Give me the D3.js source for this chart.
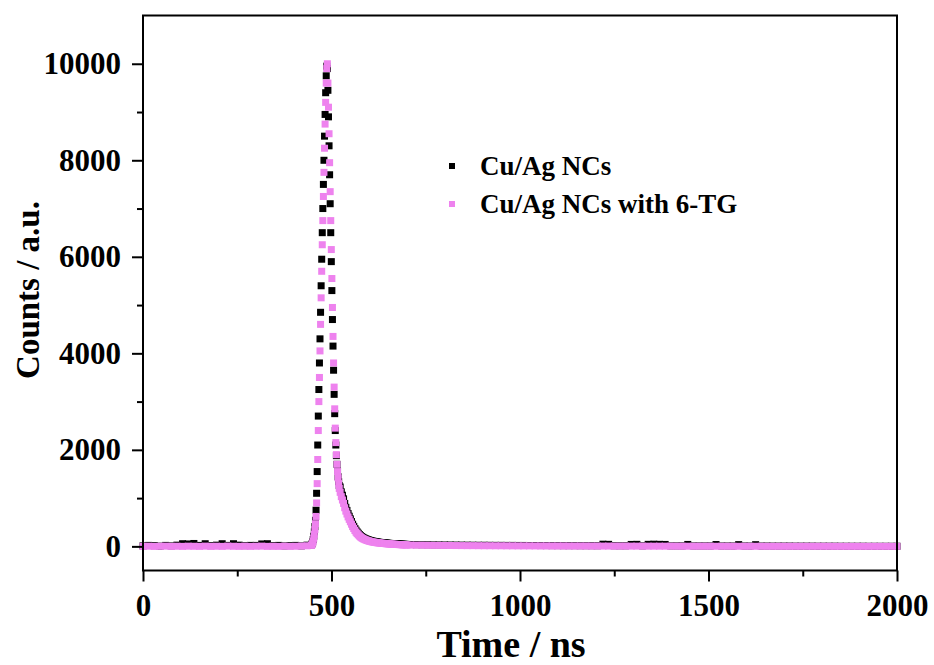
<html>
<script src='https://d3js.org/d3.v7.min.js'></script>
<style>
  body {margin: 0; background: #fff;}
  text {font-family: 'Liberation Serif', 'Times New Roman', serif; font-weight: bold; fill: #000;}
</style>
<body onload='init()'>
<svg width=934 height=665></svg>
<script>
// time channels: [start ns, step ns, count]
const timeSegments = [[0, 15, 30], [447, 1.5, 50], [523, 3, 60], [710, 15, 87]];

const baseBlack = [
  10, 20, 15, 5, 20, 10, 25, 55, 50, 60,
  20, 55, 15, 25, 55, 20, 55, 25, 15, 20,
  20, 50, 55, 15, 20, 10, 15, 20, 10, 25];
const baseViolet = [
  0, 4, 0, 2, 5, 0, 3, 0, 4, 2,
  0, 5, 0, 3, 0, 6, 2, 0, 4, 0,
  3, 5, 0, 2, 0, 4, 0, 3, 6, 12];

const peakBlack = [
  30, 55, 90, 140, 210, 300, 410, 540, 750, 1100,
  1550, 2100, 2700, 3250, 3800, 4300, 4850, 5400, 5950, 6500,
  7000, 7500, 8000, 8500, 8950, 9400, 9750, 9950, 9900, 9450,
  8900, 8300, 7700, 7100, 6500, 5900, 5300, 4700, 4150, 3650,
  3150, 2750, 2400, 2100, 1880, 1700, 1560, 1440, 1340, 1260];
const peakViolet = [
  20, 40, 70, 110, 170, 250, 350, 470, 620, 900,
  1300, 1800, 2400, 3000, 3500, 4050, 4600, 5150, 5700, 6250,
  6750, 7250, 7750, 8250, 8750, 9200, 9600, 9900, 10000, 9600,
  9100, 8550, 7950, 7350, 6750, 6150, 5550, 4950, 4350, 3800,
  3300, 2850, 2450, 2150, 1900, 1700, 1550, 1420, 1300, 1200];

const decayBlack = [
  1230, 1130, 1060, 985, 890, 810, 745, 680, 625, 570,
  515, 460, 415, 372, 335, 300, 272, 245, 222, 203,
  186, 173, 162, 151, 141, 133, 125, 119, 112, 107,
  102, 97, 93, 90, 86, 83, 80, 77, 75, 72,
  69, 67, 65, 63, 61, 59, 57, 55, 54, 52,
  51, 49, 48, 47, 46, 44, 43, 42, 41, 40];
const decayViolet = [
  1120, 1030, 960, 890, 800, 730, 670, 610, 560, 510,
  460, 410, 370, 330, 295, 265, 240, 215, 195, 178,
  162, 150, 140, 130, 121, 114, 107, 101, 95, 90,
  86, 82, 78, 75, 72, 70, 67, 64, 62, 60,
  57, 55, 53, 51, 49, 47, 46, 44, 43, 41,
  40, 38, 37, 36, 35, 33, 32, 31, 30, 29];

const tailBlack = [
  38, 36, 34, 33, 31, 30, 29, 28, 27, 26,
  25, 24, 23, 23, 22, 21, 21, 20, 20, 19,
  19, 18, 18, 17, 17, 16, 16, 15, 15, 15,
  14, 14, 14, 13, 45, 42, 13, 12, 12, 40,
  42, 11, 42, 45, 42, 40, 10, 10, 10, 40,
  9, 9, 9, 9, 38, 8, 8, 8, 36, 8,
  7, 35, 7, 7, 6, 6, 6, 6, 5, 5,
  5, 5, 4, 4, 4, 4, 3, 3, 3, 3,
  3, 2, 2, 2, 2, 2, 2];
const tailViolet = [
  27, 25, 24, 22, 21, 20, 19, 18, 17, 16,
  15, 15, 14, 13, 13, 12, 12, 11, 11, 10,
  10, 10, 9, 9, 9, 8, 8, 8, 7, 7,
  7, 7, 6, 6, 6, 6, 5, 5, 5, 5,
  5, 4, 4, 4, 4, 4, 4, 3, 3, 3,
  3, 3, 3, 3, 2, 2, 2, 2, 2, 2,
  2, 2, 2, 1, 1, 1, 1, 1, 1, 1,
  1, 1, 1, 1, 1, 0, 0, 0, 0, 0,
  0, 0, 0, 0, 0, 0, 0];

const seriesNames = ['Cu/Ag NCs', 'Cu/Ag NCs with 6-TG'];
const xMajor = [0, 500, 1000, 1500, 2000];
const xMinor = [250, 750, 1250, 1750];
const yMajor = [0, 2000, 4000, 6000, 8000, 10000];
const yMinor = [1000, 3000, 5000, 7000, 9000];

function init() {
  const svg = d3.select('svg');
  const left = 143, right = 897, top = 15.5, bottom = 570.5;
  const x = d3.scaleLinear().domain([0, 2000]).range([left, right]);
  const y = d3.scaleLinear().domain([-500, 11000]).range([bottom, top]);
  const color = d3.scaleOrdinal().domain(seriesNames).range(['#000000', '#EE82EE']);

  const times = timeSegments.flatMap(([s, st, n]) => d3.range(n).map(i => s + i * st));
  const black = baseBlack.concat(peakBlack, decayBlack, tailBlack);
  const violet = baseViolet.concat(peakViolet, decayViolet, tailViolet);
  const series = [
    {name: seriesNames[0], pts: times.map((t, i) => [t, black[i]])},
    {name: seriesNames[1], pts: times.map((t, i) => [t, violet[i]])}
  ];

  const sz = 7;
  svg.append('g').selectAll('g').data(series).enter().append('g')
    .attr('fill', d => color(d.name))
    .selectAll('rect').data(d => d.pts).enter().append('rect')
    .attr('x', d => x(d[0]) - sz / 2)
    .attr('y', d => y(d[1]) - sz / 2)
    .attr('width', sz).attr('height', sz);

  // frame
  svg.append('rect').attr('x', left).attr('y', top)
    .attr('width', right - left).attr('height', bottom - top)
    .attr('fill', 'none').attr('stroke', '#000').attr('stroke-width', 2);

  const gx = svg.append('g').attr('transform', 'translate(0,' + bottom + ')');
  gx.call(d3.axisBottom(x).tickValues(xMajor).tickFormat(d3.format('d'))
    .tickSize(11).tickSizeOuter(0).tickPadding(12));
  gx.append('g').call(d3.axisBottom(x).tickValues(xMinor).tickSize(6).tickSizeOuter(0).tickFormat(''));
  const gy = svg.append('g').attr('transform', 'translate(' + left + ',0)');
  gy.call(d3.axisLeft(y).tickValues(yMajor).tickFormat(d3.format('d'))
    .tickSize(11).tickSizeOuter(0).tickPadding(11));
  gy.append('g').call(d3.axisLeft(y).tickValues(yMinor).tickSize(6).tickSizeOuter(0).tickFormat(''));
  svg.selectAll('.domain').remove();
  svg.selectAll('.tick line').attr('stroke', '#000').attr('stroke-width', 2);
  svg.selectAll('.tick text').style('font-size', '31px')
    .style('font-family', "'Liberation Serif', serif").style('font-weight', 'bold');

  svg.append('text').attr('x', 511).attr('y', 657).attr('text-anchor', 'middle')
    .style('font-size', '38px').text('Time / ns');
  svg.append('text').attr('transform', 'translate(39,290) rotate(-90)').attr('text-anchor', 'middle')
    .style('font-size', '33px').text('Counts / a.u.');

  const leg = svg.append('g').selectAll('g').data(seriesNames).enter().append('g')
    .attr('transform', (d, i) => 'translate(452,' + (166 + i * 38) + ')');
  leg.append('rect').attr('x', -3).attr('y', -3).attr('width', 6).attr('height', 6)
    .attr('fill', d => color(d));
  leg.append('text').attr('x', 28).attr('y', 9).style('font-size', '27px').text(d => d);
}
</script>
</body>
</html>
